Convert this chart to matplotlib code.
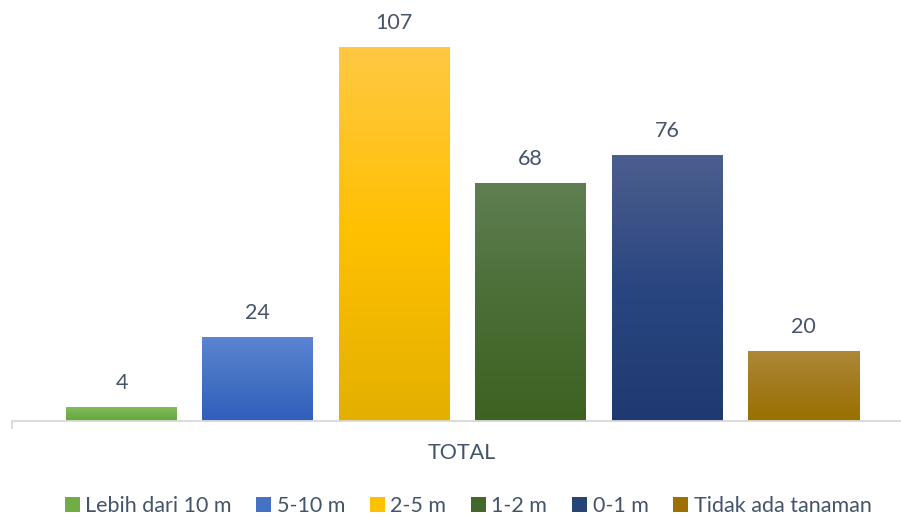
import numpy as np
import matplotlib.pyplot as plt
from matplotlib.colors import LinearSegmentedColormap
from matplotlib.patches import Patch

categories = ["Lebih dari 10 m", "5-10 m", "2-5 m", "1-2 m", "0-1 m", "Tidak ada tanaman"]
values = [4, 24, 107, 68, 76, 20]
group_label = "TOTAL"
# gradient colours per series (top, middle, bottom)
top_colors = ["#84BC5E", "#5B84D2", "#FFC843", "#5F7F52", "#4C5E8E", "#AD8838"]
mid_colors = ["#72B04A", "#4472C4", "#FFC000", "#4A6E35", "#2A4680", "#A27A1C"]
bottom_colors = ["#64A83C", "#2F5EBC", "#E3B000", "#3E6221", "#1F3A72", "#9A7000"]
legend_colors = ["#70AD47", "#4472C4", "#FFC000", "#43682B", "#264478", "#9E7000"]

TEXT = "#44546A"
plt.rcParams["font.family"] = ["Lato", "DejaVu Sans"]

fig = plt.figure(figsize=(9.01, 5.17), dpi=100)
ax = fig.add_axes([12 / 901, 96 / 517, 889 / 901, 401 / 517])

width = 111 / 136.4
x = np.arange(len(values))
grad = np.linspace(0, 1, 256).reshape(-1, 1)

for i, v in enumerate(values):
    cmap = LinearSegmentedColormap.from_list(
        f"g{i}", [bottom_colors[i], mid_colors[i], top_colors[i]])
    ax.imshow(grad, cmap=cmap, origin="lower", aspect="auto",
              extent=(x[i] - width / 2, x[i] + width / 2, 0, v),
              interpolation="bilinear", zorder=2)
    ax.text(x[i], v + 4.0, str(v), ha="center", va="bottom",
            fontsize=15.5, color=TEXT)

ax.set_xlim(-109.5 / 136.4, (901 - 121.5) / 136.4)
ax.set_ylim(0, 401 / 3.495)

for s in ["top", "right", "left"]:
    ax.spines[s].set_visible(False)
ax.spines["bottom"].set_color("#D9D9D9")
ax.spines["bottom"].set_linewidth(1.3)
ax.set_yticks([])
ax.set_xticks([ax.get_xlim()[0]])
ax.set_xticklabels([""])
ax.tick_params(axis="x", length=6, width=1.3, color="#D9D9D9")

fig.text(462 / 901, 1 - 453 / 517, group_label, ha="center", va="center",
         fontsize=15.5, color=TEXT)

handles = [Patch(facecolor=c, edgecolor="none") for c in legend_colors]
fig.legend(handles, categories, loc="center", bbox_to_anchor=(468 / 901, 1 - 506 / 517),
           ncol=6, frameon=False, fontsize=15.5, labelcolor=TEXT,
           handlelength=0.7, handleheight=0.7, handletextpad=0.25, columnspacing=1.15)

fig.savefig("out.png", dpi=100)
